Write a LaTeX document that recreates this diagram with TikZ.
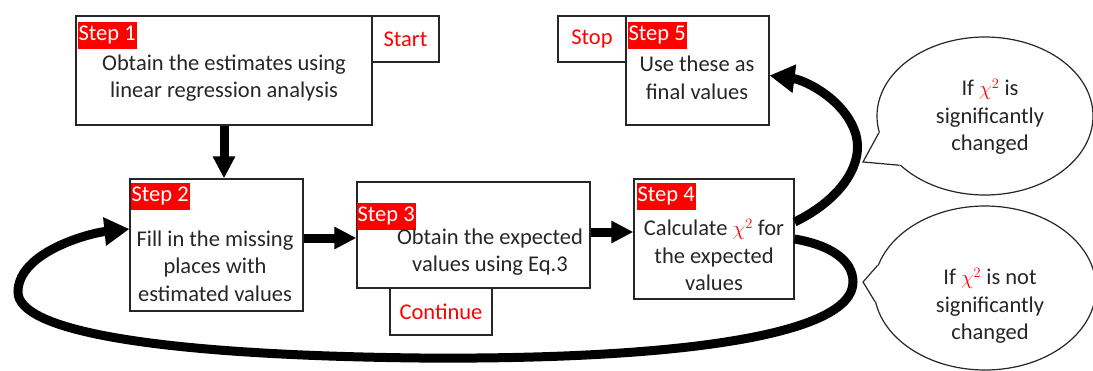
\documentclass[tikz,border=0pt]{standalone}
\usepackage{fontspec}
\setmainfont{Carlito}
\usepackage{xcolor}
\usetikzlibrary{arrows.meta,positioning,calc,shapes.geometric}
\newcommand{\stepfont}{\fontsize{22.5}{27.5}\selectfont}
\tikzset{
    stepbox/.style={
        rectangle, draw=black!85, line width=1.2pt, inner sep=0pt
    },
    steptext/.style={
        align=center, text=black!85, font=\stepfont
    },
    tag/.style={
        rectangle, fill=red, text=white, anchor=north west,
        inner xsep=1pt, inner ysep=2pt, text height=17pt, text depth=6pt,
        font=\stepfont
    },
    flag/.style={
        rectangle, draw=black!85, line width=1.2pt, inner sep=0pt,
        text=red, font=\stepfont
    },
    bubble/.style={
        ellipse, draw=black!85, fill=white, line width=1.2pt, inner sep=0pt
    },
    pointer/.style={draw=black!85, line width=1.2pt, line join=miter},
    arrow/.style={-{Triangle[length=22pt,width=21pt]}, line width=9pt},
    backflow/.style={-{Triangle[length=25pt,width=27pt]}, line width=9pt}
}

\begin{document}
\begin{tikzpicture}[x=1pt, y=-1pt]
\useasboundingbox (0,0) rectangle (1093,370);

%% Top row – step 1 with Start, step 5 with Stop
\node[stepbox, minimum width=296pt, minimum height=109pt] (s1) at (224, 70.5) {};
\node[flag, minimum width=67pt, minimum height=46pt] (start) at (405.5, 39) {Start};
\node[stepbox, minimum width=143pt, minimum height=109pt] (s5) at (697.5, 70.5) {};
\node[flag, minimum width=68pt, minimum height=46pt] (stop) at (592, 39) {Stop};

%% Middle row – steps 2, 3, 4 and Continue under step 3
\node[stepbox, minimum width=173pt, minimum height=132pt] (s2) at (216.5, 245) {};
\node[stepbox, minimum width=233pt, minimum height=106pt] (s3) at (473.5, 235) {};
\node[flag, minimum width=102pt, minimum height=47pt] (cont) at (441, 311.5) {Continue};
\node[stepbox, minimum width=160pt, minimum height=120pt] (s4) at (714, 239) {};

%% Red step tags
\node[tag] (g1) at ([xshift=2pt, yshift=-6pt]s1.north west) {Step 1};
\node[tag] (g2) at ([xshift=1pt, yshift=-4pt]s2.north west) {Step 2};
\node[tag] (g3) at ([yshift=-21pt]s3.north west) {Step 3};
\node[tag] (g4) at ([xshift=3pt, yshift=-4pt]s4.north west) {Step 4};
\node[tag] (g5) at ([xshift=2pt, yshift=-6pt]s5.north west) {Step 5};

%% Step texts
\node[steptext] (t1) at (224, 78) {Obtain the estimates using\\linear regression analysis};
\node[steptext] (t2) at (215, 266) {Fill in the missing\\places with\\estimated values};
\node[steptext] (t3) at (490, 252) {Obtain the expected\\values using Eq.3};
\node[steptext] (t4) at (714, 255) {Calculate \textcolor{red}{$\chi^2$} for\\the expected\\values};
\node[steptext] (t5) at (697, 78) {Use these as\\final values};

%% Speech bubbles with their pointers
\node[bubble, minimum width=216pt, minimum height=158pt] (yes) at (985, 116) {};
\coordinate (tipyes) at (863, 162);
\fill[white] (yes.189) -- (tipyes) -- (yes.210) -- (yes.center) -- cycle;
\draw[pointer] (yes.189) -- (tipyes) -- (yes.210);
\node[steptext] (tyes) at (990, 117) {If \textcolor{red}{$\chi^2$} is\\significantly\\changed};

\node[bubble, minimum width=222pt, minimum height=164pt] (no) at (985, 288) {};
\coordinate (tipno) at (863, 282);
\fill[white] (no.168) -- (tipno) -- (no.187) -- (no.center) -- cycle;
\draw[pointer] (no.168) -- (tipno) -- (no.187);
\node[steptext] (tno) at (990, 306) {If \textcolor{red}{$\chi^2$} is not\\significantly\\changed};

%% Straight flow
\draw[arrow] (s1.south) -- (s1.south |- s2.north);
\draw[arrow] ([yshift=7pt]s2.east) -- ([yshift=7pt]s2.east -| s3.west);
\draw[arrow] ([yshift=3pt]s3.east) -- ([yshift=3pt]s3.east -| s4.west);

%% Step 4 -> Step 5 (significant change)
\draw[backflow] ([yshift=17pt]s4.east)
    .. controls (840, 200) and (864, 165) .. (856, 135)
    .. controls (846, 100) and (805, 80) .. ([yshift=-5pt]s5.east);

%% Step 4 -> Step 2 (loop back)
\draw[backflow] (s4.east)
    .. controls (830, 245) and (853, 260) .. (853, 282)
    .. controls (853, 335) and (680, 360) .. (420, 358)
    .. controls (150, 355) and (18, 330) .. (18, 292)
    .. controls (18, 252) and (90, 233) .. ([yshift=16pt]s2.west);

\end{tikzpicture}
\end{document}
